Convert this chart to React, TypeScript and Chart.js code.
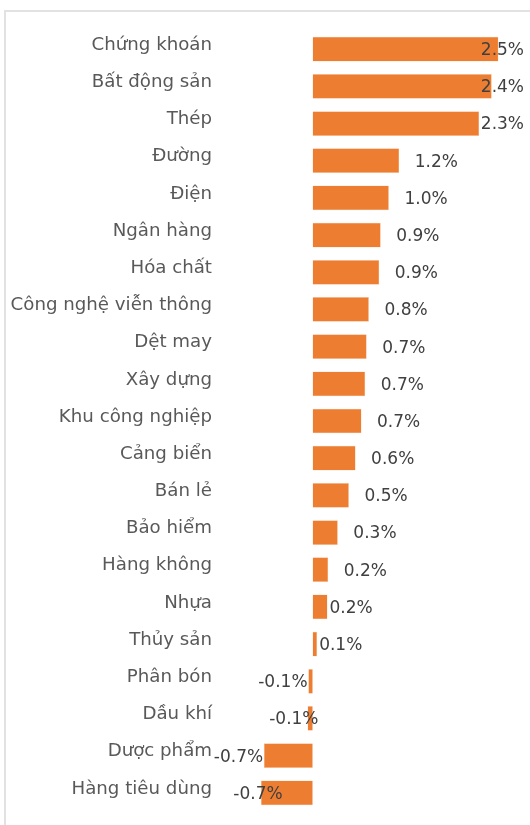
import React, { useEffect, useRef } from "react";
import { Chart, registerables } from "chart.js";

Chart.register(...registerables);

const CATEGORIES = [
  "Chứng khoán",
  "Bất động sản",
  "Thép",
  "Đường",
  "Điện",
  "Ngân hàng",
  "Hóa chất",
  "Công nghệ viễn thông",
  "Dệt may",
  "Xây dựng",
  "Khu công nghiệp",
  "Cảng biển",
  "Bán lẻ",
  "Bảo hiểm",
  "Hàng không",
  "Nhựa",
  "Thủy sản",
  "Phân bón",
  "Dầu khí",
  "Dược phẩm",
  "Hàng tiêu dùng",
];

const VALUES = [
  2.51, 2.42, 2.25, 1.17, 1.03, 0.92, 0.9, 0.76, 0.73, 0.71, 0.66, 0.58, 0.49,
  0.34, 0.21, 0.2, 0.06, -0.06, -0.07, -0.66, -0.7,
];

const VALUE_LABELS = [
  "2.5%", "2.4%", "2.3%", "1.2%", "1.0%", "0.9%", "0.9%", "0.8%", "0.7%",
  "0.7%", "0.7%", "0.6%", "0.5%", "0.3%", "0.2%", "0.2%", "0.1%", "-0.1%",
  "-0.1%", "-0.7%", "-0.7%",
];

// styling: gap in px between bar end and its value label
const LABEL_GAP = [
  15.5, 15.5, 15.5, 15.5, 15.5, 15.5, 15.5, 15.5, 15.5, 15.5, 15.5, 15.5, 15.5,
  15.5, 15.5, 2, 2, 0.7, -11, 0.7, -21.7,
];

const FONT = '"DejaVu Sans", Verdana, sans-serif';

const valueLabelPlugin = {
  id: "valueLabels",
  afterDatasetsDraw(chart: any) {
    const ctx = chart.ctx;
    const meta = chart.getDatasetMeta(0);
    ctx.save();
    ctx.font = `17px ${FONT}`;
    ctx.fillStyle = "#404040";
    ctx.textBaseline = "middle";
    ctx.textAlign = "left";
    meta.data.forEach((bar: any, i: number) => {
      const v = VALUES[i];
      const text = VALUE_LABELS[i];
      const w = ctx.measureText(text).width;
      const gap = LABEL_GAP[i];
      let left: number;
      if (v >= 0) {
        left = Math.min(bar.x + gap, chart.width - 6 - w);
      } else {
        left = bar.x - gap - w;
      }
      ctx.fillText(text, left, bar.y + 1.5);
    });
    ctx.restore();
  },
};

export default function App() {
  const canvasRef = useRef<HTMLCanvasElement | null>(null);

  useEffect(() => {
    if (!canvasRef.current) return;
    const chart = new Chart(canvasRef.current, {
      type: "bar",
      data: {
        labels: CATEGORIES,
        datasets: [
          {
            data: VALUES,
            backgroundColor: "#ED7D31",
            borderColor: "rgba(248, 203, 173, 0.9)",
            borderWidth: 0.5,
            categoryPercentage: 1,
            barPercentage: 0.665,
          },
        ],
      },
      options: {
        indexAxis: "y",
        responsive: false,
        animation: false,
        layout: {
          padding: { top: 30.6, bottom: 13.6, right: 10.1, left: 0 },
        },
        plugins: {
          legend: { display: false },
          tooltip: { enabled: false },
        },
        scales: {
          x: {
            display: false,
            min: -0.8,
            max: 2.8,
          },
          y: {
            grid: { display: false, drawTicks: false },
            border: { display: false },
            ticks: {
              autoSkip: false,
              padding: 41.5,
              labelOffset: -4,
              color: "#595959",
              font: { family: FONT, size: 18.2 },
            },
            afterFit: (scale: any) => {
              scale.width = 253.5;
              scale.paddingTop = 0;
              scale.paddingBottom = 0;
            },
          },
        },
      },
      plugins: [valueLabelPlugin],
    });
    return () => chart.destroy();
  }, []);

  return (
    <div
      style={{
        position: "absolute",
        left: 0,
        top: 0,
        width: 530,
        height: 825,
        overflow: "hidden",
        background: "#ffffff",
      }}
    >
      <div
        style={{
          position: "absolute",
          left: 4,
          top: 10,
          width: 700,
          height: 1000,
          borderLeft: "2px solid #e2e2e2",
          borderTop: "2px solid #e2e2e2",
        }}
      />
      <canvas
        ref={canvasRef}
        width={530}
        height={825}
        style={{ position: "absolute", left: 0, top: 0, display: "block" }}
      />
    </div>
  );
}
